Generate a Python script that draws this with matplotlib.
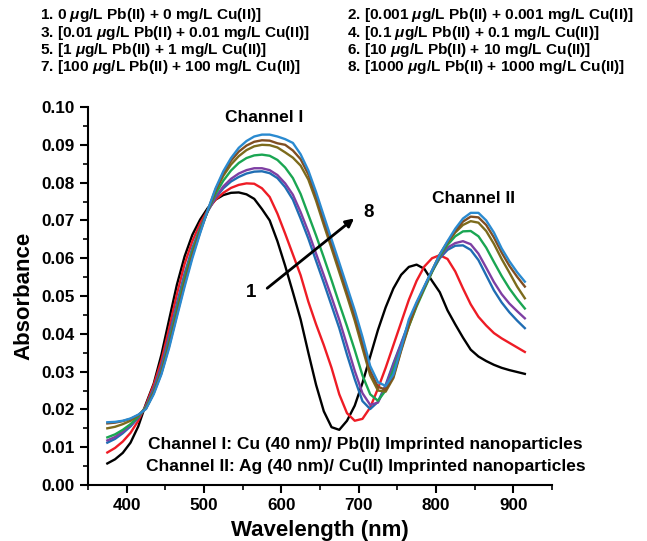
import matplotlib
matplotlib.use('Agg')
import matplotlib.pyplot as plt
from matplotlib.ticker import MultipleLocator, FormatStrFormatter

plt.rcParams['font.family'] = ['Liberation Sans', 'DejaVu Sans']
plt.rcParams['font.weight'] = 'bold'
plt.rcParams['mathtext.fontset'] = 'custom'
plt.rcParams['mathtext.it'] = 'Liberation Sans:italic:bold'
plt.rcParams['mathtext.rm'] = 'Liberation Sans:bold'

# wavelength grid (nm)
wavelength = list(range(375, 916, 10))

abs_1 = [0.0057, 0.0068, 0.0085, 0.0112, 0.0155, 0.0215, 0.0268, 0.0345, 0.0438, 0.0530,
         0.0605, 0.0662, 0.0702, 0.0733, 0.0755, 0.0767, 0.0773, 0.0774, 0.0769, 0.0757,
         0.0730, 0.0700, 0.0645, 0.0580, 0.0510, 0.0438, 0.0350, 0.0265, 0.0195, 0.0153,
         0.0146, 0.0170, 0.0210, 0.0270, 0.0340, 0.0410, 0.0470, 0.0520, 0.0556, 0.0577,
         0.0583, 0.0572, 0.0540, 0.0510, 0.0462, 0.0425, 0.0390, 0.0358, 0.0340, 0.0328,
         0.0318, 0.0310, 0.0304, 0.0299, 0.0294]
abs_2 = [0.0086, 0.0098, 0.0115, 0.0138, 0.0170, 0.0212, 0.0265, 0.0330, 0.0415, 0.0505,
         0.0585, 0.0645, 0.0692, 0.0728, 0.0755, 0.0773, 0.0786, 0.0794, 0.0798, 0.0797,
         0.0785, 0.0762, 0.0718, 0.0665, 0.0610, 0.0555, 0.0485, 0.0425, 0.0370, 0.0310,
         0.0240, 0.0190, 0.0170, 0.0175, 0.0205, 0.0255, 0.0310, 0.0370, 0.0430, 0.0490,
         0.0540, 0.0578, 0.0600, 0.0608, 0.0598, 0.0565, 0.0520, 0.0478, 0.0445, 0.0422,
         0.0402, 0.0388, 0.0376, 0.0364, 0.0352]
abs_3 = [0.0112, 0.0122, 0.0137, 0.0155, 0.0178, 0.0208, 0.0255, 0.0315, 0.0395, 0.0480,
         0.0560, 0.0627, 0.0680, 0.0725, 0.0760, 0.0785, 0.0803, 0.0815, 0.0824, 0.0829,
         0.0830, 0.0825, 0.0812, 0.0788, 0.0755, 0.0705, 0.0652, 0.0593, 0.0535, 0.0475,
         0.0415, 0.0345, 0.0280, 0.0222, 0.0201, 0.0220, 0.0265, 0.0322, 0.0375, 0.0430,
         0.0480, 0.0522, 0.0565, 0.0600, 0.0622, 0.0633, 0.0634, 0.0622, 0.0595, 0.0555,
         0.0515, 0.0483, 0.0457, 0.0435, 0.0415]
abs_4 = [0.0118, 0.0127, 0.0141, 0.0158, 0.0180, 0.0207, 0.0250, 0.0310, 0.0388, 0.0472,
         0.0553, 0.0622, 0.0677, 0.0724, 0.0762, 0.0790, 0.0810, 0.0824, 0.0833, 0.0838,
         0.0838, 0.0833, 0.0820, 0.0798, 0.0768, 0.0722, 0.0670, 0.0612, 0.0555, 0.0497,
         0.0437, 0.0370, 0.0302, 0.0243, 0.0212, 0.0218, 0.0260, 0.0318, 0.0372, 0.0428,
         0.0478, 0.0522, 0.0566, 0.0603, 0.0628, 0.0640, 0.0645, 0.0637, 0.0612, 0.0575,
         0.0537, 0.0505, 0.0480, 0.0460, 0.0441]
abs_5 = [0.0126, 0.0134, 0.0146, 0.0161, 0.0181, 0.0206, 0.0247, 0.0303, 0.0380, 0.0465,
         0.0547, 0.0619, 0.0676, 0.0726, 0.0770, 0.0805, 0.0832, 0.0852, 0.0865, 0.0872,
         0.0874, 0.0871, 0.0860, 0.0840, 0.0812, 0.0770, 0.0715, 0.0660, 0.0602, 0.0542,
         0.0480, 0.0420, 0.0357, 0.0290, 0.0240, 0.0223, 0.0250, 0.0305, 0.0362, 0.0420,
         0.0472, 0.0518, 0.0563, 0.0605, 0.0635, 0.0658, 0.0671, 0.0672, 0.0658, 0.0628,
         0.0590, 0.0553, 0.0520, 0.0492, 0.0467]
abs_6 = [0.0150, 0.0154, 0.0161, 0.0170, 0.0184, 0.0203, 0.0244, 0.0298, 0.0372, 0.0455,
         0.0537, 0.0611, 0.0672, 0.0727, 0.0778, 0.0818, 0.0848, 0.0870, 0.0886, 0.0896,
         0.0900, 0.0899, 0.0893, 0.0880, 0.0866, 0.0845, 0.0808, 0.0752, 0.0688, 0.0626,
         0.0563, 0.0500, 0.0435, 0.0362, 0.0290, 0.0250, 0.0247, 0.0283, 0.0355, 0.0420,
         0.0476, 0.0522, 0.0566, 0.0609, 0.0641, 0.0668, 0.0688, 0.0698, 0.0694, 0.0672,
         0.0638, 0.0598, 0.0562, 0.0525, 0.0494]
abs_7 = [0.0163, 0.0165, 0.0169, 0.0175, 0.0185, 0.0202, 0.0243, 0.0296, 0.0368, 0.0450,
         0.0531, 0.0606, 0.0669, 0.0727, 0.0782, 0.0825, 0.0858, 0.0882, 0.0898, 0.0908,
         0.0912, 0.0911, 0.0904, 0.0900, 0.0885, 0.0862, 0.0822, 0.0765, 0.0700, 0.0638,
         0.0576, 0.0512, 0.0448, 0.0376, 0.0302, 0.0260, 0.0252, 0.0287, 0.0358, 0.0428,
         0.0480, 0.0524, 0.0567, 0.0610, 0.0643, 0.0672, 0.0697, 0.0710, 0.0708, 0.0688,
         0.0655, 0.0615, 0.0580, 0.0551, 0.0525]
abs_8 = [0.0166, 0.0167, 0.0170, 0.0176, 0.0186, 0.0201, 0.0240, 0.0293, 0.0363, 0.0445,
         0.0525, 0.0600, 0.0666, 0.0728, 0.0785, 0.0830, 0.0865, 0.0892, 0.0910, 0.0922,
         0.0927, 0.0927, 0.0922, 0.0915, 0.0905, 0.0875, 0.0832, 0.0775, 0.0712, 0.0650,
         0.0588, 0.0525, 0.0462, 0.0392, 0.0315, 0.0272, 0.0262, 0.0292, 0.0362, 0.0438,
         0.0484, 0.0526, 0.0568, 0.0610, 0.0645, 0.0678, 0.0705, 0.0720, 0.0720, 0.0700,
         0.0668, 0.0626, 0.0592, 0.0563, 0.0538]

curves = [abs_1, abs_2, abs_3, abs_4, abs_5, abs_6, abs_7, abs_8]
colors = ['#000000', '#ee1c25', '#1f6db3', '#7e3fa3', '#1aa652', '#7c6b1c', '#804e22', '#2a8ad0']

legend_lines = [
    '1. 0 $\\mu$g/L Pb(II) + 0 mg/L Cu(II)]',
    '2. [0.001 $\\mu$g/L Pb(II) + 0.001 mg/L Cu(II)]',
    '3. [0.01 $\\mu$g/L Pb(II) + 0.01 mg/L Cu(II)]',
    '4. [0.1 $\\mu$g/L Pb(II) + 0.1 mg/L Cu(II)]',
    '5. [1 $\\mu$g/L Pb(II) + 1 mg/L Cu(II)]',
    '6. [10 $\\mu$g/L Pb(II) + 10 mg/L Cu(II)]',
    '7. [100 $\\mu$g/L Pb(II) + 100 mg/L Cu(II)]',
    '8. [1000 $\\mu$g/L Pb(II) + 1000 mg/L Cu(II)]',
]

fig = plt.figure(figsize=(6.47, 5.41), dpi=100)
ax = fig.add_axes([0.136, 0.1035, 0.717, 0.6987])

for y, c in zip(curves, colors):
    ax.plot(wavelength, y, color=c, lw=1.7, solid_joinstyle='round')

ax.set_xlim(350, 950)
ax.set_ylim(0, 0.1)
ax.xaxis.set_major_locator(MultipleLocator(100))
ax.xaxis.set_minor_locator(MultipleLocator(50))
ax.yaxis.set_major_locator(MultipleLocator(0.01))
ax.yaxis.set_minor_locator(MultipleLocator(0.005))
ax.yaxis.set_major_formatter(FormatStrFormatter('%.2f'))
ax.spines['top'].set_visible(False)
ax.spines['right'].set_visible(False)
for s in ['left', 'bottom']:
    ax.spines[s].set_linewidth(1.5)
ax.tick_params(which='major', length=6, width=1.5, labelsize=12.3, direction='out')
ax.tick_params(which='minor', length=3.5, width=1.2, direction='out')
for lab in ax.get_xticklabels() + ax.get_yticklabels():
    lab.set_fontweight('bold')

ax.set_xlabel('Wavelength (nm)', fontsize=16, fontweight='bold', labelpad=5)
ax.set_ylabel('Absorbance', fontsize=16, fontweight='bold', labelpad=5)

ax.text(578, 0.0971, 'Channel I', ha='center', va='center', fontsize=12.5, fontweight='bold')
ax.text(849, 0.0759, 'Channel II', ha='center', va='center', fontsize=12.5, fontweight='bold')
ax.text(709, 0.0108, 'Channel I: Cu (40 nm)/ Pb(II) Imprinted nanoparticles',
        ha='center', va='center', fontsize=12.5, fontweight='bold')
ax.text(709, 0.0050, 'Channel II: Ag (40 nm)/ Cu(II) Imprinted nanoparticles',
        ha='center', va='center', fontsize=12.5, fontweight='bold')

ax.annotate('', xy=(697, 0.0710), xytext=(579, 0.0516),
            arrowprops=dict(arrowstyle='-|>', lw=2, color='k', mutation_scale=12))
ax.text(561, 0.0508, '1', ha='center', va='center', fontsize=13.5, fontweight='bold')
ax.text(713, 0.0722, '8', ha='center', va='center', fontsize=13.5, fontweight='bold')

row_y = [0.9715, 0.9395, 0.9075, 0.8755]
for i, t in enumerate(legend_lines):
    x = 0.062 if i % 2 == 0 else 0.536
    fig.text(x, row_y[i // 2], t, ha='left', va='center', fontsize=11.1, fontweight='bold')

plt.savefig('out.png', dpi=100)
